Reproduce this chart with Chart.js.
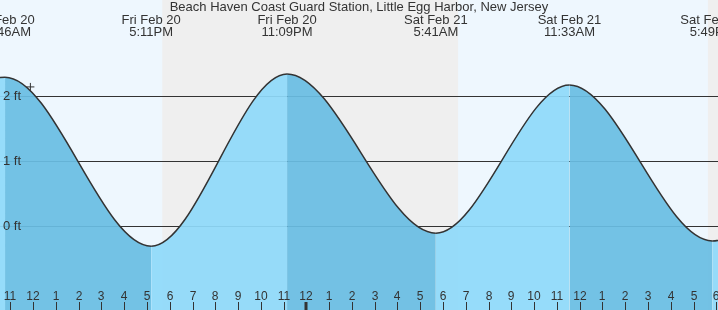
<!DOCTYPE html>
<html>
<head>
<meta charset="utf-8">
<script src="https://cdn.jsdelivr.net/npm/chart.js@4.4.1/dist/chart.umd.min.js"></script>
<style>
  html, body { margin: 0; padding: 0; background: #eef7fe; }
  #wrap { width: 718px; height: 310px; position: relative; }
</style>
</head>
<body>
<div id="wrap"><canvas id="tide"></canvas></div>
<script>
// hours are counted from midnight, Sat Feb 21
const tideHours = [-19.5, -13.233, -6.817, -0.85, 5.683, 11.55, 17.817, 23.9];
const tideFeet = [-0.2, 2.29, -0.31, 2.34, -0.11, 2.17, -0.23, 2.3];
const tideDays = ['', 'Fri Feb 20', 'Fri Feb 20', 'Fri Feb 20', 'Sat Feb 21', 'Sat Feb 21', 'Sat Feb 21', ''];
const tideClock = ['', '10:46AM', '5:11PM', '11:09PM', '5:41AM', '11:33AM', '5:49PM', ''];

const nightStart = [-6.33, 17.63];
const nightEnd = [6.66, 30];

const hourTicks = [-13, -12, -11, -10, -9, -8, -7, -6, -5, -4, -3, -2, -1, 0, 1, 2, 3, 4, 5, 6, 7, 8, 9, 10, 11, 12, 13, 14, 15, 16, 17, 18];
const hourLabels = ['11', '12', '1', '2', '3', '4', '5', '6', '7', '8', '9', '10', '11', '12', '1', '2', '3', '4', '5', '6', '7', '8', '9', '10', '11', '12', '1', '2', '3', '4', '5', '6'];
const feetTicks = [0, 1, 2];

const nowHour = [-12.12];
const nowFeet = [2.14];

const title = 'Beach Haven Coast Guard Station, Little Egg Harbor, New Jersey';

const RISING = 'rgba(143, 217, 250, 0.93)';
const FALLING = 'rgba(105, 189, 227, 0.93)';
const FONT = '"Liberation Sans", Arial, sans-serif';

const tideBackdrop = {
  id: 'tideBackdrop',
  beforeDraw(chart) {
    const { ctx, chartArea: a, scales: { x } } = chart;
    ctx.save();
    ctx.fillStyle = '#eef7fe';
    ctx.fillRect(0, 0, chart.width, chart.height);
    ctx.fillStyle = '#efefef';
    nightStart.forEach((s, i) => {
      const x0 = x.getPixelForValue(s);
      const x1 = x.getPixelForValue(nightEnd[i]);
      ctx.fillRect(x0, a.top, x1 - x0, a.bottom - a.top);
    });
    ctx.restore();
  },
  afterDraw(chart) {
    const { ctx, scales: { x } } = chart;
    ctx.save();
    ctx.fillStyle = '#333';
    ctx.textAlign = 'center';
    ctx.textBaseline = 'alphabetic';
    ctx.font = '13px ' + FONT;
    ctx.fillText(title, chart.width / 2, 11);

    tideHours.forEach((h, i) => {
      if (!tideDays[i]) return;
      const px = x.getPixelForValue(h);
      ctx.fillText(tideDays[i], px, 24);
      ctx.fillText(tideClock[i], px, 36);
    });

    ctx.font = '12px ' + FONT;
    ctx.strokeStyle = '#333';
    hourTicks.forEach((h, i) => {
      const px = Math.round(x.getPixelForValue(h));
      ctx.fillText(hourLabels[i], px, 300);
      ctx.beginPath();
      ctx.lineWidth = h === 0 ? 3 : 1;
      ctx.moveTo(px + (h === 0 ? 0 : 0.5), 302);
      ctx.lineTo(px + (h === 0 ? 0 : 0.5), 310);
      ctx.stroke();
    });
    ctx.restore();
  }
};

new Chart(document.getElementById('tide'), {
  type: 'line',
  data: {
    datasets: [
      {
        type: 'scatter',
        data: nowHour.map((h, i) => ({ x: h, y: nowFeet[i] })),
        pointStyle: 'cross',
        pointRadius: 4,
        borderColor: '#333',
        borderWidth: 1,
        order: 0
      },
      {
        data: tideHours.map((h, i) => ({ x: h, y: tideFeet[i] })),
        borderColor: '#333',
        borderWidth: 1.5,
        pointRadius: 0,
        cubicInterpolationMode: 'monotone',
        fill: 'start',
        backgroundColor: FALLING,
        segment: {
          backgroundColor: c => c.p1.parsed.y > c.p0.parsed.y ? RISING : FALLING
        },
        order: 1
      }
    ]
  },
  options: {
    responsive: true,
    maintainAspectRatio: false,
    animation: false,
    devicePixelRatio: 1,
    layout: { padding: 0, autoPadding: false },
    plugins: {
      legend: { display: false },
      tooltip: { enabled: false },
      title: { display: false }
    },
    scales: {
      x: {
        type: 'linear',
        display: false,
        min: -13.454,
        max: 18.073
      },
      y: {
        type: 'linear',
        min: -1.292,
        max: 3.477,
        afterBuildTicks: s => { s.ticks = feetTicks.map(v => ({ value: v })); },
        afterFit: s => { s.width = 0; s.paddingTop = 0; s.paddingBottom = 0; },
        border: { display: false },
        grid: { color: '#333', lineWidth: 1, drawTicks: false },
        ticks: {
          mirror: true,
          padding: 3,
          z: 1,
          color: '#333',
          font: { family: FONT, size: 13 },
          callback: v => v + ' ft'
        }
      }
    }
  },
  plugins: [tideBackdrop]
});
</script>
</body>
</html>
